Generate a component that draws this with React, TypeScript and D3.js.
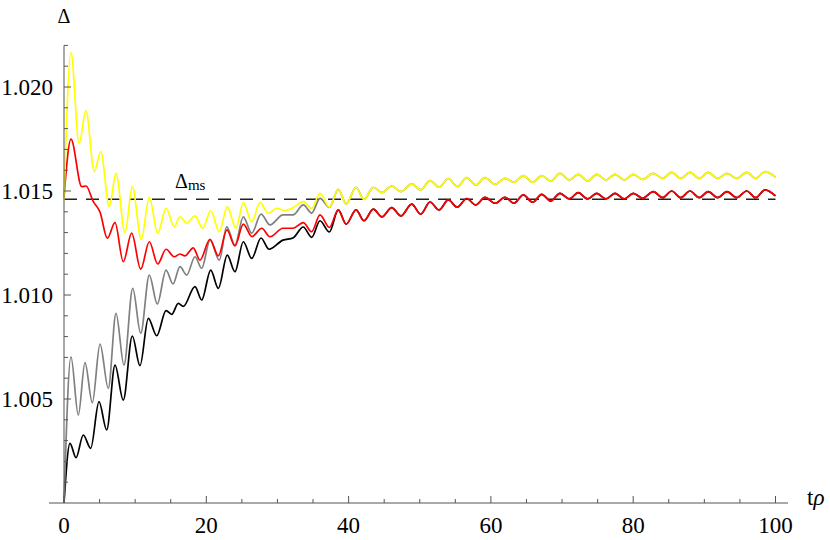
import React from 'react';
import * as d3 from 'd3';

const W = 830;
const H = 540;

const xMajor = [0, 20, 40, 60, 80, 100];
const yMajor = [1.005, 1.01, 1.015, 1.02];
const xLabels = ['0', '20', '40', '60', '80', '100'];
const yLabels = ['1.005', '1.010', '1.015', '1.020'];
const deltaMS = 1.0146;

// early part of each curve (extrema)
const yellowEarlyT = [0, 0.98, 2.11, 3.09, 4.26, 5.16, 6.37, 7.31, 8.57, 9.6, 10.86, 11.99, 13.17, 14.34, 15.5, 16.3, 17.25, 18.41, 19.49, 20.62, 21.83, 22.95, 24.17, 25.2, 26.38, 27.55, 28.71, 29.9, 31.06, 32.19, 33.63, 34.81, 35.98, 37.29];
const yellowEarlyD = [1.01457, 1.02165, 1.01729, 1.01886, 1.01593, 1.01689, 1.01425, 1.01585, 1.013, 1.01521, 1.01268, 1.0147, 1.01297, 1.01417, 1.01328, 1.01376, 1.01345, 1.0138, 1.01321, 1.01405, 1.01304, 1.01425, 1.01321, 1.01444, 1.01352, 1.01444, 1.01393, 1.01417, 1.01405, 1.0142, 1.01449, 1.01417, 1.01489, 1.01422];

const redEarlyT = [0, 0.98, 2.49, 3.09, 4.12, 5.06, 6.09, 7.17, 8.33, 9.51, 10.78, 11.99, 13.17, 14.34, 15.5, 16.3, 17.01, 18.17, 19.11, 20.52, 21.69, 22.9, 24.03, 25.2, 26.42, 27.79, 28.95, 30.78, 32.19, 33.63, 34.81, 35.98, 37.29];
const redEarlyD = [1.01471, 1.01749, 1.01521, 1.01524, 1.01449, 1.01399, 1.01273, 1.01348, 1.0116, 1.01297, 1.01124, 1.01256, 1.01149, 1.0122, 1.01184, 1.01197, 1.01188, 1.01227, 1.01168, 1.01268, 1.01188, 1.01313, 1.01236, 1.01341, 1.01281, 1.01321, 1.0128, 1.01321, 1.01321, 1.01348, 1.01304, 1.01385, 1.01325];

const grayEarlyT = [0, 0.98, 2.01, 2.95, 3.98, 5.06, 6.23, 7.31, 8.43, 9.66, 10.78, 11.99, 13.11, 14.34, 15.32, 16.3, 17.25, 18.41, 19.35, 20.52, 21.83, 22.87, 24.03, 25.2, 26.38, 27.69, 28.95, 30.78, 32.19, 33.63, 34.81, 35.98, 37.29];
const grayEarlyD = [1.0, 1.00703, 1.00423, 1.00675, 1.00482, 1.00764, 1.00551, 1.00912, 1.00663, 1.01032, 1.00816, 1.01096, 1.00957, 1.0112, 1.01053, 1.01136, 1.01096, 1.01184, 1.01128, 1.01264, 1.01168, 1.01328, 1.0124, 1.01376, 1.01297, 1.01389, 1.01337, 1.01385, 1.01385, 1.01433, 1.01394, 1.01465, 1.01421];

const blackEarlyT = [0, 0.84, 1.69, 2.71, 3.75, 4.92, 6.0, 7.17, 8.33, 9.6, 10.68, 11.85, 13.03, 14.34, 15.14, 16.06, 16.77, 18.41, 19.35, 20.62, 21.69, 22.95, 24.03, 25.2, 26.38, 27.69, 28.81, 30.78, 32.19, 33.63, 34.81, 35.98, 37.29];
const blackEarlyD = [1.0, 1.00287, 1.00218, 1.00327, 1.00263, 1.00487, 1.00351, 1.00663, 1.00495, 1.00803, 1.0066, 1.00888, 1.00804, 1.00925, 1.00907, 1.0096, 1.00945, 1.0104, 1.00976, 1.0112, 1.01032, 1.01192, 1.01112, 1.01256, 1.01176, 1.01274, 1.0122, 1.01264, 1.01274, 1.01327, 1.01277, 1.01357, 1.01303];

// late part: times of the extrema (yellow/gray overlap, red/black overlap)
const lateT = [38.55, 39.66, 41.04, 42.17, 43.47, 44.69, 46.06, 47.36, 48.87, 50.13, 51.44, 52.71, 54.01, 55.28, 56.6, 57.86, 59.17, 60.58, 61.98, 63.25, 64.55, 65.88, 67.14, 68.4, 69.71, 71.02, 72.28, 73.6, 74.87, 76.17, 77.44, 78.75, 80.01, 81.33, 82.82, 84.14, 85.41, 86.67, 87.98, 89.29, 90.55, 91.87, 93.18, 94.54, 95.95, 97.22, 98.52, 100];
const yellowLateD = [1.01508, 1.01438, 1.01518, 1.0146, 1.01518, 1.01492, 1.01524, 1.01497, 1.01534, 1.01505, 1.0155, 1.01518, 1.0156, 1.01521, 1.01564, 1.01529, 1.01564, 1.01532, 1.01561, 1.01542, 1.01574, 1.01542, 1.01574, 1.01548, 1.01585, 1.01553, 1.0158, 1.01548, 1.0158, 1.01553, 1.0158, 1.01553, 1.0158, 1.01556, 1.01585, 1.01561, 1.0159, 1.01561, 1.0159, 1.01561, 1.0159, 1.01561, 1.01585, 1.01561, 1.0159, 1.01561, 1.01593, 1.01567];
const redLateD = [1.01409, 1.01341, 1.01409, 1.01357, 1.01413, 1.01376, 1.0142, 1.0138, 1.01437, 1.01389, 1.01447, 1.01409, 1.01457, 1.01422, 1.01464, 1.01433, 1.01469, 1.01441, 1.0147, 1.01441, 1.01481, 1.01446, 1.01484, 1.01452, 1.01489, 1.01462, 1.01492, 1.01462, 1.01489, 1.01462, 1.01489, 1.01462, 1.01489, 1.01465, 1.01497, 1.01468, 1.015, 1.01468, 1.015, 1.01468, 1.01497, 1.01468, 1.01497, 1.01468, 1.015, 1.01468, 1.01505, 1.01477];

const series = [
  { name: 'black', color: '#000000', t: blackEarlyT.concat(lateT), d: blackEarlyD.concat(redLateD) },
  { name: 'gray', color: '#808080', t: grayEarlyT.concat(lateT), d: grayEarlyD.concat(yellowLateD) },
  { name: 'red', color: '#ff0000', t: redEarlyT.concat(lateT), d: redEarlyD.concat(redLateD) },
  { name: 'yellow', color: '#ffff00', t: yellowEarlyT.concat(lateT), d: yellowEarlyD.concat(yellowLateD) },
];

const x = d3.scaleLinear().domain([0, 100]).range([64, 775.5]);
const y = d3.scaleLinear().domain([1.0, 1.022]).range([503, 45.4]);

const line = d3
  .line<[number, number]>()
  .x((p) => x(p[0]))
  .y((p) => y(p[1]))
  .curve(d3.curveMonotoneX);

const axisColor = '#555555';
const serifStyle = { fontFamily: "'Liberation Serif', 'Times New Roman', Times, 'DejaVu Serif', serif" };

export default function App() {
  const xMinor = d3.range(0, 101, 5).filter((v) => v % 20 !== 0);
  const yMinor = d3.range(1, 23).map((i) => 1 + i * 0.001).filter((v) => Math.round(v * 1000) % 5 !== 0);
  return (
    <svg width={W} height={H} style={{ position: 'absolute', left: 0, top: 0, background: '#fff' }}>
      {/* dashed reference line */}
      <line x1={x(0)} x2={x(100)} y1={y(deltaMS)} y2={y(deltaMS)} stroke="#222" strokeWidth={1.4} strokeDasharray="13,9" />
      {series.map((s) => (
        <path
          key={s.name}
          d={line(s.t.map((t, i) => [t, s.d[i]] as [number, number])) || ''}
          fill="none"
          stroke={s.color}
          strokeWidth={1.7}
        />
      ))}
      {/* axes */}
      <line x1={49} x2={788} y1={y(1.0)} y2={y(1.0)} stroke={axisColor} strokeWidth={1} />
      <line x1={x(0)} x2={x(0)} y1={y(1.0)} y2={y(1.022)} stroke={axisColor} strokeWidth={1} />
      {xMajor.map((v, i) => (
        <g key={'xm' + v}>
          <line x1={x(v)} x2={x(v)} y1={y(1.0)} y2={y(1.0) - 7} stroke={axisColor} />
          <text x={x(v)} y={533} textAnchor="middle" style={serifStyle} fontSize={23}>
            {xLabels[i]}
          </text>
        </g>
      ))}
      {xMinor.map((v) => (
        <line key={'xn' + v} x1={x(v)} x2={x(v)} y1={y(1.0)} y2={y(1.0) - 4} stroke={axisColor} />
      ))}
      {yMajor.map((v, i) => (
        <g key={'ym' + v}>
          <line x1={x(0)} x2={x(0) + 7} y1={y(v)} y2={y(v)} stroke={axisColor} />
          <text x={53} y={y(v) + 8} textAnchor="end" style={serifStyle} fontSize={23}>
            {yLabels[i]}
          </text>
        </g>
      ))}
      {yMinor.map((v) => (
        <line key={'yn' + v} x1={x(0)} x2={x(0) + 4} y1={y(v)} y2={y(v)} stroke={axisColor} />
      ))}
      <text x={64} y={23} textAnchor="middle" style={serifStyle} fontSize={20}>
        Δ
      </text>
      <text x={807} y={505} style={serifStyle} fontSize={23}>
        t<tspan fontStyle="italic">ρ</tspan>
      </text>
      <text x={175} y={188} style={serifStyle} fontSize={20}>
        Δ<tspan fontSize={15} dy={2}>ms</tspan>
      </text>
    </svg>
  );
}
